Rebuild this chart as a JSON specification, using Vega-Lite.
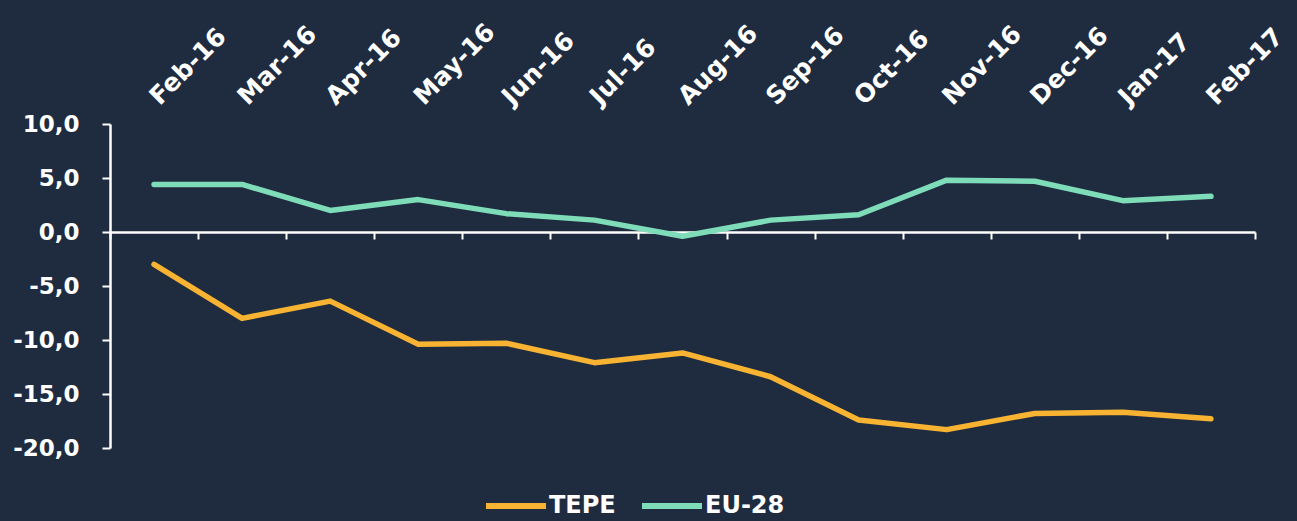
{
  "$schema": "https://vega.github.io/schema/vega-lite/v6.json",
  "width": 1145,
  "height": 324,
  "autosize": {"type": "none"},
  "padding": {"left": 110, "top": 124, "right": 42, "bottom": 73},
  "background": "#1f2c40",
  "config": {
    "view": {"stroke": null},
    "locale": {"number": {"decimal": ",", "thousands": ".", "grouping": [3], "currency": ["", " €"], "minus": "-"}},
    "font": "DejaVu Sans",
    "axis": {"labelColor": "#ffffff", "labelFont": "DejaVu Sans", "labelFontWeight": "bold", "domainColor": "#ffffff", "tickColor": "#ffffff", "grid": false, "title": null}
  },
  "data": {"values": [
    {"month": "Feb-16", "i": 1, "series": "TEPE", "value": -3.0},
    {"month": "Mar-16", "i": 2, "series": "TEPE", "value": -8.0},
    {"month": "Apr-16", "i": 3, "series": "TEPE", "value": -6.4},
    {"month": "May-16", "i": 4, "series": "TEPE", "value": -10.4},
    {"month": "Jun-16", "i": 5, "series": "TEPE", "value": -10.3},
    {"month": "Jul-16", "i": 6, "series": "TEPE", "value": -12.1},
    {"month": "Aug-16", "i": 7, "series": "TEPE", "value": -11.2},
    {"month": "Sep-16", "i": 8, "series": "TEPE", "value": -13.4},
    {"month": "Oct-16", "i": 9, "series": "TEPE", "value": -17.4},
    {"month": "Nov-16", "i": 10, "series": "TEPE", "value": -18.3},
    {"month": "Dec-16", "i": 11, "series": "TEPE", "value": -16.8},
    {"month": "Jan-17", "i": 12, "series": "TEPE", "value": -16.7},
    {"month": "Feb-17", "i": 13, "series": "TEPE", "value": -17.3},
    {"month": "Feb-16", "i": 1, "series": "EU-28", "value": 4.4},
    {"month": "Mar-16", "i": 2, "series": "EU-28", "value": 4.4},
    {"month": "Apr-16", "i": 3, "series": "EU-28", "value": 2.0},
    {"month": "May-16", "i": 4, "series": "EU-28", "value": 3.0},
    {"month": "Jun-16", "i": 5, "series": "EU-28", "value": 1.7},
    {"month": "Jul-16", "i": 6, "series": "EU-28", "value": 1.1},
    {"month": "Aug-16", "i": 7, "series": "EU-28", "value": -0.4},
    {"month": "Sep-16", "i": 8, "series": "EU-28", "value": 1.1},
    {"month": "Oct-16", "i": 9, "series": "EU-28", "value": 1.6},
    {"month": "Nov-16", "i": 10, "series": "EU-28", "value": 4.8},
    {"month": "Dec-16", "i": 11, "series": "EU-28", "value": 4.7},
    {"month": "Jan-17", "i": 12, "series": "EU-28", "value": 2.9},
    {"month": "Feb-17", "i": 13, "series": "EU-28", "value": 3.3}
  ]},
  "layer": [
    {
      "mark": {"type": "line", "strokeWidth": 5.5, "strokeCap": "round", "strokeJoin": "round"},
      "encoding": {
        "x": {"field": "month", "type": "nominal", "sort": {"field": "i"},
              "scale": {"type": "band", "paddingInner": 0, "paddingOuter": 0},
              "axis": {"orient": "bottom", "offset": -216, "labels": false, "tickBand": "extent", "tickSize": 7, "tickWidth": 2, "domainWidth": 2.5}},
        "y": {"field": "value", "type": "quantitative",
              "scale": {"domain": [-20, 10], "nice": false, "zero": false},
              "axis": {"values": [-20, -15, -10, -5, 0, 5, 10], "format": ".1f", "labelFontSize": 23, "labelPadding": 23, "tickSize": 8, "tickWidth": 2, "domainWidth": 2.5}},
        "color": {"field": "series", "type": "nominal",
                  "scale": {"domain": ["TEPE", "EU-28"], "range": ["#f7b331", "#7fdcb9"]},
                  "legend": {"orient": "none", "legendX": 373, "legendY": 349, "direction": "horizontal", "title": null,
                             "symbolType": "stroke", "symbolSize": 3600, "symbolStrokeWidth": 6,
                             "labelColor": "#ffffff", "labelFontSize": 24, "labelFontWeight": "bold", "labelFont": "DejaVu Sans",
                             "labelOffset": 0, "columnPadding": 14}}
      }
    },
    {
      "mark": {"type": "line", "strokeOpacity": 0},
      "encoding": {
        "x": {"field": "month", "type": "nominal", "sort": {"field": "i"},
              "axis": {"orient": "top", "domain": false, "ticks": false, "labelAngle": -45, "labelAlign": "left", "labelBaseline": "middle", "labelFontSize": 25, "labelPadding": 24}},
        "y": {"field": "value", "type": "quantitative"}
      }
    }
  ],
  "resolve": {"axis": {"x": "independent"}}
}
